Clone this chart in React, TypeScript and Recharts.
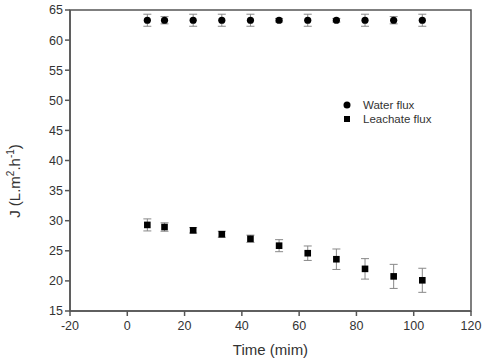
import React from 'react';
import {
  ScatterChart,
  Scatter,
  XAxis,
  YAxis,
  ErrorBar,
  ReferenceArea,
  Legend,
} from 'recharts';

// Sampling times (min)
const times = [7, 13, 23, 33, 43, 53, 63, 73, 83, 93, 103];

// Water flux J (L.m^-2.h^-1) and its standard deviation
const waterFlux = [63.3, 63.3, 63.3, 63.3, 63.3, 63.3, 63.3, 63.3, 63.3, 63.3, 63.3];
const waterErr = [1.0, 0.6, 1.0, 1.0, 1.0, 0.3, 1.0, 0.3, 1.0, 0.6, 1.0];

// Leachate flux J (L.m^-2.h^-1) and its standard deviation
const leachateFlux = [29.3, 28.95, 28.4, 27.75, 27.0, 25.85, 24.6, 23.6, 22.0, 20.75, 20.1];
const leachateErr = [1.0, 0.7, 0.45, 0.5, 0.6, 1.0, 1.2, 1.7, 1.7, 2.0, 2.0];

const xTicks = [-20, 0, 20, 40, 60, 80, 100, 120];
const yTicks = [15, 20, 25, 30, 35, 40, 45, 50, 55, 60, 65];

const waterData = times.map((t, i) => ({ t, j: waterFlux[i], err: waterErr[i] }));
const leachateData = times.map((t, i) => ({ t, j: leachateFlux[i], err: leachateErr[i] }));

const FONT = '"Liberation Sans", Arial, sans-serif';
const AXIS = '#555';
const TEXT = '#333';

const CircleMark = (props: any) => (
  <circle cx={props.cx} cy={props.cy} r={3.6} fill="#000" />
);
const SquareMark = (props: any) => (
  <rect x={props.cx - 3.3} y={props.cy - 3.3} width={6.6} height={6.6} fill="#000" />
);

const YTitle = () => {
  const x = 20;
  const y = 181;
  return (
    <text
      x={x}
      y={y}
      transform={`rotate(-90, ${x}, ${y})`}
      textAnchor="middle"
      fontFamily={FONT}
      fontSize={15}
      fill={TEXT}
    >
      <tspan>J (L.m</tspan>
      <tspan fontSize={10} dy={-6}>2</tspan>
      <tspan dy={6}>.h</tspan>
      <tspan fontSize={10} dy={-6}>-1</tspan>
      <tspan dy={6}>)</tspan>
    </text>
  );
};

const LegendBox = () => (
  <div style={{ fontFamily: FONT, fontSize: 11.5, color: TEXT, lineHeight: '14px' }}>
    <div style={{ display: 'flex', alignItems: 'center' }}>
      <svg width={24} height={14}>
        <circle cx={8} cy={7} r={3.5} fill="#000" />
      </svg>
      <span>Water flux</span>
    </div>
    <div style={{ display: 'flex', alignItems: 'center' }}>
      <svg width={24} height={14}>
        <rect x={5} y={4} width={6} height={6} fill="#000" />
      </svg>
      <span>Leachate flux</span>
    </div>
  </div>
);

export default function App() {
  return (
    <div style={{ position: 'absolute', left: 0, top: 0, background: '#fff' }}>
      <ScatterChart
        width={485}
        height={364}
        margin={{ top: 10, right: 14, bottom: 0, left: 0 }}
      >
        <XAxis
          type="number"
          dataKey="t"
          domain={[-20, 120]}
          ticks={xTicks}
          allowDataOverflow
          height={53}
          tickSize={5}
          tickMargin={5}
          stroke={AXIS}
          strokeWidth={1.5}
          tick={{ fill: TEXT, fontSize: 12.5, fontFamily: FONT }}
          label={{
            value: 'Time (mim)',
            position: 'insideBottom',
            offset: 9,
            fill: TEXT,
            fontSize: 15,
            fontFamily: FONT,
          }}
        />
        <YAxis
          type="number"
          dataKey="j"
          domain={[15, 65]}
          ticks={yTicks}
          allowDataOverflow
          width={70}
          tickSize={5}
          tickMargin={2}
          stroke={AXIS}
          strokeWidth={1.5}
          tick={{ fill: TEXT, fontSize: 12.5, fontFamily: FONT }}
          label={<YTitle />}
        />
        <ReferenceArea
          x1={-20}
          x2={120}
          y1={15}
          y2={65}
          fill="none"
          stroke={AXIS}
          strokeWidth={1.5}
          fillOpacity={0}
          ifOverflow="visible"
        />
        <Scatter
          name="Water flux"
          data={waterData}
          shape={CircleMark}
          isAnimationActive={false}
        >
          <ErrorBar dataKey="err" direction="y" width={4} stroke="#888" strokeWidth={1} />
        </Scatter>
        <Scatter
          name="Leachate flux"
          data={leachateData}
          shape={SquareMark}
          isAnimationActive={false}
        >
          <ErrorBar dataKey="err" direction="y" width={4} stroke="#888" strokeWidth={1} />
        </Scatter>
        <Legend
          layout="horizontal"
          verticalAlign="middle"
          align="center"
          content={<LegendBox />}
          wrapperStyle={{ left: 339, top: 98, width: 'auto' }}
        />
      </ScatterChart>
    </div>
  );
}
